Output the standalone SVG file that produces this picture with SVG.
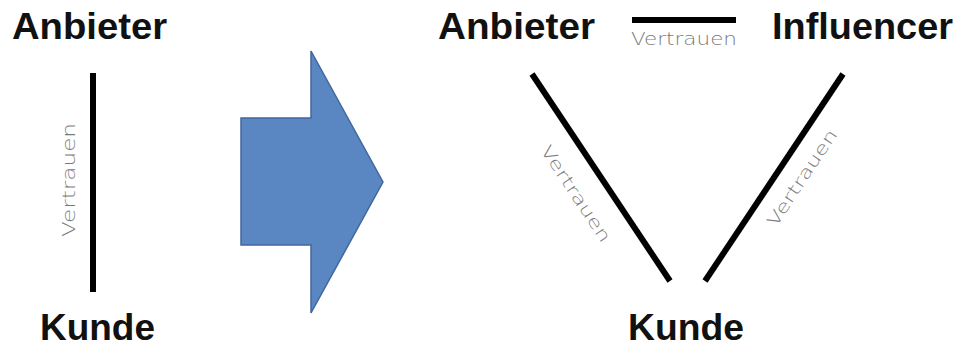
<svg xmlns="http://www.w3.org/2000/svg" width="959" height="352" viewBox="0 0 959 352">
  <style>
    .label { font-family: "Liberation Sans", Arial, sans-serif; font-weight: bold; font-size: 37px; fill: #111; }
    .trust { font-family: "DejaVu Sans", sans-serif; font-weight: 200; font-size: 17px; fill: #7a7a7a; }
    .link { stroke: #000; stroke-width: 6; stroke-linecap: butt; fill: none; }
  </style>
  <rect width="959" height="352" fill="#fff"/>

  <!-- before: two parties -->
  <g id="anbieter-before"><text class="label" x="12" y="39" textLength="155" lengthAdjust="spacingAndGlyphs">Anbieter</text></g>
  <g id="kunde-before"><text class="label" x="40" y="340" textLength="115" lengthAdjust="spacingAndGlyphs">Kunde</text></g>

  <!-- transition arrow -->
  <g id="arrow">
    <polygon points="241,118 311,118 311,51 383,182 311,313 311,245 241,245" fill="#5a86c2" stroke="#41679e" stroke-width="1.5"/>
  </g>

  <!-- after: three parties -->
  <g id="anbieter-after"><text class="label" x="438" y="39" textLength="157" lengthAdjust="spacingAndGlyphs">Anbieter</text></g>
  <g id="influencer"><text class="label" x="772" y="39" textLength="181" lengthAdjust="spacingAndGlyphs">Influencer</text></g>
  <g id="kunde-after"><text class="label" x="628" y="340" textLength="116" lengthAdjust="spacingAndGlyphs">Kunde</text></g>

  <!-- trust relations -->
  <g id="connectors">
    <line class="link" x1="93" y1="73" x2="93" y2="292"/>
    <text class="trust" transform="translate(75,180) rotate(-90)" text-anchor="middle" textLength="114" lengthAdjust="spacingAndGlyphs">Vertrauen</text>

    <line class="link" x1="632" y1="20" x2="736" y2="20"/>
    <text class="trust" x="684" y="45" text-anchor="middle" textLength="106" lengthAdjust="spacingAndGlyphs">Vertrauen</text>

    <line class="link" x1="532" y1="74" x2="670" y2="281"/>
    <text class="trust" transform="translate(571,197) rotate(56.4)" text-anchor="middle" textLength="112" lengthAdjust="spacingAndGlyphs">Vertrauen</text>

    <line class="link" x1="843" y1="74" x2="705" y2="281"/>
    <text class="trust" transform="translate(807,181) rotate(-56.4)" text-anchor="middle" textLength="112" lengthAdjust="spacingAndGlyphs">Vertrauen</text>
  </g>
</svg>
